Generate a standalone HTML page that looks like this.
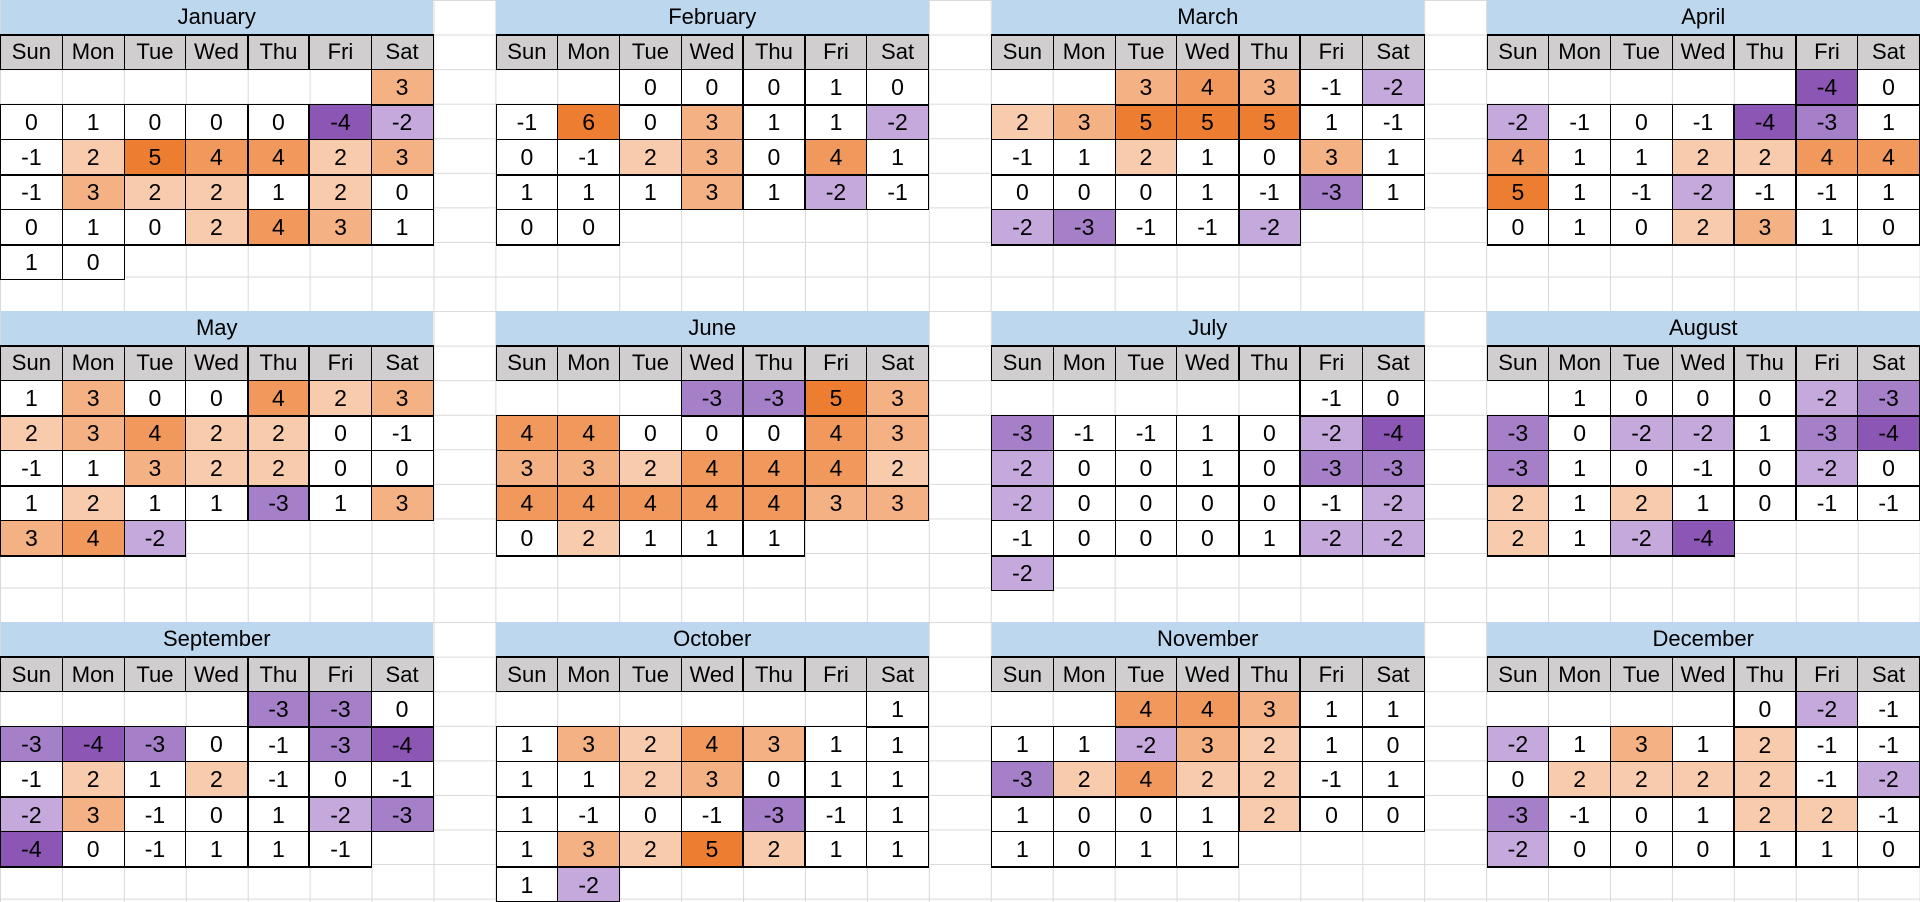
<!DOCTYPE html>
<html><head><meta charset="utf-8"><style>
html,body{margin:0;padding:0}
body{width:1920px;height:899px;overflow:hidden;position:relative;background:#fff;
background-image:linear-gradient(to right,#d9d9d9 1px,transparent 1px),linear-gradient(to bottom,#d9d9d9 1px,transparent 1px);
background-size:61.935px 34.577px;font-family:"Liberation Sans",Arial,sans-serif;}
table{position:absolute;border-collapse:collapse;table-layout:fixed;width:433.5px}
td{width:61.935px;height:33.5px;padding:0;text-align:center;font-size:23px;color:#000;border:1px solid #000;background:#fff;line-height:22px}
td.t{background:#bdd7ee;border:none;font-size:22px}
tr.h td{background:#d0cece;border-top:2px solid #000;font-size:22px}
td.e{border:none;background:transparent}
tr.w1 td:not(.e),tr.w3 td:not(.e),tr.w5 td:not(.e){border-bottom:2px solid #000}
tr td:nth-child(5):not(.e):not(.t),tr td:nth-child(6):not(.e):not(.t){border-left:2px solid #000}
.p2{background:#f8cbad}.p3{background:#f4b183}.p4{background:#f1995c}.p5{background:#ed7d31}
.n2{background:#c5a9dc}.n3{background:#a57fc8}.n4{background:#8c56b4}
</style></head><body>

<table style="left:0;top:0"><tr><td class="t" colspan="7">January</td></tr>
<tr class="h"><td>Sun</td><td>Mon</td><td>Tue</td><td>Wed</td><td>Thu</td><td>Fri</td><td>Sat</td></tr>
<tr class="w1"><td class="e"></td><td class="e"></td><td class="e"></td><td class="e"></td><td class="e"></td><td class="e"></td><td class="p3">3</td></tr>
<tr class="w2"><td>0</td><td>1</td><td>0</td><td>0</td><td>0</td><td class="n4">-4</td><td class="n2">-2</td></tr>
<tr class="w3"><td>-1</td><td class="p2">2</td><td class="p5">5</td><td class="p4">4</td><td class="p4">4</td><td class="p2">2</td><td class="p3">3</td></tr>
<tr class="w4"><td>-1</td><td class="p3">3</td><td class="p2">2</td><td class="p2">2</td><td>1</td><td class="p2">2</td><td>0</td></tr>
<tr class="w5"><td>0</td><td>1</td><td>0</td><td class="p2">2</td><td class="p4">4</td><td class="p3">3</td><td>1</td></tr>
<tr class="w6"><td>1</td><td>0</td><td class="e"></td><td class="e"></td><td class="e"></td><td class="e"></td><td class="e"></td></tr></table>

<table style="left:495.5px;top:0"><tr><td class="t" colspan="7">February</td></tr>
<tr class="h"><td>Sun</td><td>Mon</td><td>Tue</td><td>Wed</td><td>Thu</td><td>Fri</td><td>Sat</td></tr>
<tr class="w1"><td class="e"></td><td class="e"></td><td>0</td><td>0</td><td>0</td><td>1</td><td>0</td></tr>
<tr class="w2"><td>-1</td><td class="p5">6</td><td>0</td><td class="p3">3</td><td>1</td><td>1</td><td class="n2">-2</td></tr>
<tr class="w3"><td>0</td><td>-1</td><td class="p2">2</td><td class="p3">3</td><td>0</td><td class="p4">4</td><td>1</td></tr>
<tr class="w4"><td>1</td><td>1</td><td>1</td><td class="p3">3</td><td>1</td><td class="n2">-2</td><td>-1</td></tr>
<tr class="w5"><td>0</td><td>0</td><td class="e"></td><td class="e"></td><td class="e"></td><td class="e"></td><td class="e"></td></tr>
<tr class="w6"><td class="e"></td><td class="e"></td><td class="e"></td><td class="e"></td><td class="e"></td><td class="e"></td><td class="e"></td></tr></table>

<table style="left:991px;top:0"><tr><td class="t" colspan="7">March</td></tr>
<tr class="h"><td>Sun</td><td>Mon</td><td>Tue</td><td>Wed</td><td>Thu</td><td>Fri</td><td>Sat</td></tr>
<tr class="w1"><td class="e"></td><td class="e"></td><td class="p3">3</td><td class="p4">4</td><td class="p3">3</td><td>-1</td><td class="n2">-2</td></tr>
<tr class="w2"><td class="p2">2</td><td class="p3">3</td><td class="p5">5</td><td class="p5">5</td><td class="p5">5</td><td>1</td><td>-1</td></tr>
<tr class="w3"><td>-1</td><td>1</td><td class="p2">2</td><td>1</td><td>0</td><td class="p3">3</td><td>1</td></tr>
<tr class="w4"><td>0</td><td>0</td><td>0</td><td>1</td><td>-1</td><td class="n3">-3</td><td>1</td></tr>
<tr class="w5"><td class="n2">-2</td><td class="n3">-3</td><td>-1</td><td>-1</td><td class="n2">-2</td><td class="e"></td><td class="e"></td></tr>
<tr class="w6"><td class="e"></td><td class="e"></td><td class="e"></td><td class="e"></td><td class="e"></td><td class="e"></td><td class="e"></td></tr></table>

<table style="left:1486.5px;top:0"><tr><td class="t" colspan="7">April</td></tr>
<tr class="h"><td>Sun</td><td>Mon</td><td>Tue</td><td>Wed</td><td>Thu</td><td>Fri</td><td>Sat</td></tr>
<tr class="w1"><td class="e"></td><td class="e"></td><td class="e"></td><td class="e"></td><td class="e"></td><td class="n4">-4</td><td>0</td></tr>
<tr class="w2"><td class="n2">-2</td><td>-1</td><td>0</td><td>-1</td><td class="n4">-4</td><td class="n3">-3</td><td>1</td></tr>
<tr class="w3"><td class="p4">4</td><td>1</td><td>1</td><td class="p2">2</td><td class="p2">2</td><td class="p4">4</td><td class="p4">4</td></tr>
<tr class="w4"><td class="p5">5</td><td>1</td><td>-1</td><td class="n2">-2</td><td>-1</td><td>-1</td><td>1</td></tr>
<tr class="w5"><td>0</td><td>1</td><td>0</td><td class="p2">2</td><td class="p3">3</td><td>1</td><td>0</td></tr>
<tr class="w6"><td class="e"></td><td class="e"></td><td class="e"></td><td class="e"></td><td class="e"></td><td class="e"></td><td class="e"></td></tr></table>

<table style="left:0;top:311.2px"><tr><td class="t" colspan="7">May</td></tr>
<tr class="h"><td>Sun</td><td>Mon</td><td>Tue</td><td>Wed</td><td>Thu</td><td>Fri</td><td>Sat</td></tr>
<tr class="w1"><td>1</td><td class="p3">3</td><td>0</td><td>0</td><td class="p4">4</td><td class="p2">2</td><td class="p3">3</td></tr>
<tr class="w2"><td class="p2">2</td><td class="p3">3</td><td class="p4">4</td><td class="p2">2</td><td class="p2">2</td><td>0</td><td>-1</td></tr>
<tr class="w3"><td>-1</td><td>1</td><td class="p3">3</td><td class="p2">2</td><td class="p2">2</td><td>0</td><td>0</td></tr>
<tr class="w4"><td>1</td><td class="p2">2</td><td>1</td><td>1</td><td class="n3">-3</td><td>1</td><td class="p3">3</td></tr>
<tr class="w5"><td class="p3">3</td><td class="p4">4</td><td class="n2">-2</td><td class="e"></td><td class="e"></td><td class="e"></td><td class="e"></td></tr>
<tr class="w6"><td class="e"></td><td class="e"></td><td class="e"></td><td class="e"></td><td class="e"></td><td class="e"></td><td class="e"></td></tr></table>

<table style="left:495.5px;top:311.2px"><tr><td class="t" colspan="7">June</td></tr>
<tr class="h"><td>Sun</td><td>Mon</td><td>Tue</td><td>Wed</td><td>Thu</td><td>Fri</td><td>Sat</td></tr>
<tr class="w1"><td class="e"></td><td class="e"></td><td class="e"></td><td class="n3">-3</td><td class="n3">-3</td><td class="p5">5</td><td class="p3">3</td></tr>
<tr class="w2"><td class="p4">4</td><td class="p4">4</td><td>0</td><td>0</td><td>0</td><td class="p4">4</td><td class="p3">3</td></tr>
<tr class="w3"><td class="p3">3</td><td class="p3">3</td><td class="p2">2</td><td class="p4">4</td><td class="p4">4</td><td class="p4">4</td><td class="p2">2</td></tr>
<tr class="w4"><td class="p4">4</td><td class="p4">4</td><td class="p4">4</td><td class="p4">4</td><td class="p4">4</td><td class="p3">3</td><td class="p3">3</td></tr>
<tr class="w5"><td>0</td><td class="p2">2</td><td>1</td><td>1</td><td>1</td><td class="e"></td><td class="e"></td></tr>
<tr class="w6"><td class="e"></td><td class="e"></td><td class="e"></td><td class="e"></td><td class="e"></td><td class="e"></td><td class="e"></td></tr></table>

<table style="left:991px;top:311.2px"><tr><td class="t" colspan="7">July</td></tr>
<tr class="h"><td>Sun</td><td>Mon</td><td>Tue</td><td>Wed</td><td>Thu</td><td>Fri</td><td>Sat</td></tr>
<tr class="w1"><td class="e"></td><td class="e"></td><td class="e"></td><td class="e"></td><td class="e"></td><td>-1</td><td>0</td></tr>
<tr class="w2"><td class="n3">-3</td><td>-1</td><td>-1</td><td>1</td><td>0</td><td class="n2">-2</td><td class="n4">-4</td></tr>
<tr class="w3"><td class="n2">-2</td><td>0</td><td>0</td><td>1</td><td>0</td><td class="n3">-3</td><td class="n3">-3</td></tr>
<tr class="w4"><td class="n2">-2</td><td>0</td><td>0</td><td>0</td><td>0</td><td>-1</td><td class="n2">-2</td></tr>
<tr class="w5"><td>-1</td><td>0</td><td>0</td><td>0</td><td>1</td><td class="n2">-2</td><td class="n2">-2</td></tr>
<tr class="w6"><td class="n2">-2</td><td class="e"></td><td class="e"></td><td class="e"></td><td class="e"></td><td class="e"></td><td class="e"></td></tr></table>

<table style="left:1486.5px;top:311.2px"><tr><td class="t" colspan="7">August</td></tr>
<tr class="h"><td>Sun</td><td>Mon</td><td>Tue</td><td>Wed</td><td>Thu</td><td>Fri</td><td>Sat</td></tr>
<tr class="w1"><td class="e"></td><td>1</td><td>0</td><td>0</td><td>0</td><td class="n2">-2</td><td class="n3">-3</td></tr>
<tr class="w2"><td class="n3">-3</td><td>0</td><td class="n2">-2</td><td class="n2">-2</td><td>1</td><td class="n3">-3</td><td class="n4">-4</td></tr>
<tr class="w3"><td class="n3">-3</td><td>1</td><td>0</td><td>-1</td><td>0</td><td class="n2">-2</td><td>0</td></tr>
<tr class="w4"><td class="p2">2</td><td>1</td><td class="p2">2</td><td>1</td><td>0</td><td>-1</td><td>-1</td></tr>
<tr class="w5"><td class="p2">2</td><td>1</td><td class="n2">-2</td><td class="n4">-4</td><td class="e"></td><td class="e"></td><td class="e"></td></tr>
<tr class="w6"><td class="e"></td><td class="e"></td><td class="e"></td><td class="e"></td><td class="e"></td><td class="e"></td><td class="e"></td></tr></table>

<table style="left:0;top:622.4px"><tr><td class="t" colspan="7">September</td></tr>
<tr class="h"><td>Sun</td><td>Mon</td><td>Tue</td><td>Wed</td><td>Thu</td><td>Fri</td><td>Sat</td></tr>
<tr class="w1"><td class="e"></td><td class="e"></td><td class="e"></td><td class="e"></td><td class="n3">-3</td><td class="n3">-3</td><td>0</td></tr>
<tr class="w2"><td class="n3">-3</td><td class="n4">-4</td><td class="n3">-3</td><td>0</td><td>-1</td><td class="n3">-3</td><td class="n4">-4</td></tr>
<tr class="w3"><td>-1</td><td class="p2">2</td><td>1</td><td class="p2">2</td><td>-1</td><td>0</td><td>-1</td></tr>
<tr class="w4"><td class="n2">-2</td><td class="p3">3</td><td>-1</td><td>0</td><td>1</td><td class="n2">-2</td><td class="n3">-3</td></tr>
<tr class="w5"><td class="n4">-4</td><td>0</td><td>-1</td><td>1</td><td>1</td><td>-1</td><td class="e"></td></tr>
<tr class="w6"><td class="e"></td><td class="e"></td><td class="e"></td><td class="e"></td><td class="e"></td><td class="e"></td><td class="e"></td></tr></table>

<table style="left:495.5px;top:622.4px"><tr><td class="t" colspan="7">October</td></tr>
<tr class="h"><td>Sun</td><td>Mon</td><td>Tue</td><td>Wed</td><td>Thu</td><td>Fri</td><td>Sat</td></tr>
<tr class="w1"><td class="e"></td><td class="e"></td><td class="e"></td><td class="e"></td><td class="e"></td><td class="e"></td><td>1</td></tr>
<tr class="w2"><td>1</td><td class="p3">3</td><td class="p2">2</td><td class="p4">4</td><td class="p3">3</td><td>1</td><td>1</td></tr>
<tr class="w3"><td>1</td><td>1</td><td class="p2">2</td><td class="p3">3</td><td>0</td><td>1</td><td>1</td></tr>
<tr class="w4"><td>1</td><td>-1</td><td>0</td><td>-1</td><td class="n3">-3</td><td>-1</td><td>1</td></tr>
<tr class="w5"><td>1</td><td class="p3">3</td><td class="p2">2</td><td class="p5">5</td><td class="p2">2</td><td>1</td><td>1</td></tr>
<tr class="w6"><td>1</td><td class="n2">-2</td><td class="e"></td><td class="e"></td><td class="e"></td><td class="e"></td><td class="e"></td></tr></table>

<table style="left:991px;top:622.4px"><tr><td class="t" colspan="7">November</td></tr>
<tr class="h"><td>Sun</td><td>Mon</td><td>Tue</td><td>Wed</td><td>Thu</td><td>Fri</td><td>Sat</td></tr>
<tr class="w1"><td class="e"></td><td class="e"></td><td class="p4">4</td><td class="p4">4</td><td class="p3">3</td><td>1</td><td>1</td></tr>
<tr class="w2"><td>1</td><td>1</td><td class="n2">-2</td><td class="p3">3</td><td class="p2">2</td><td>1</td><td>0</td></tr>
<tr class="w3"><td class="n3">-3</td><td class="p2">2</td><td class="p4">4</td><td class="p2">2</td><td class="p2">2</td><td>-1</td><td>1</td></tr>
<tr class="w4"><td>1</td><td>0</td><td>0</td><td>1</td><td class="p2">2</td><td>0</td><td>0</td></tr>
<tr class="w5"><td>1</td><td>0</td><td>1</td><td>1</td><td class="e"></td><td class="e"></td><td class="e"></td></tr>
<tr class="w6"><td class="e"></td><td class="e"></td><td class="e"></td><td class="e"></td><td class="e"></td><td class="e"></td><td class="e"></td></tr></table>

<table style="left:1486.5px;top:622.4px"><tr><td class="t" colspan="7">December</td></tr>
<tr class="h"><td>Sun</td><td>Mon</td><td>Tue</td><td>Wed</td><td>Thu</td><td>Fri</td><td>Sat</td></tr>
<tr class="w1"><td class="e"></td><td class="e"></td><td class="e"></td><td class="e"></td><td>0</td><td class="n2">-2</td><td>-1</td></tr>
<tr class="w2"><td class="n2">-2</td><td>1</td><td class="p3">3</td><td>1</td><td class="p2">2</td><td>-1</td><td>-1</td></tr>
<tr class="w3"><td>0</td><td class="p2">2</td><td class="p2">2</td><td class="p2">2</td><td class="p2">2</td><td>-1</td><td class="n2">-2</td></tr>
<tr class="w4"><td class="n3">-3</td><td>-1</td><td>0</td><td>1</td><td class="p2">2</td><td class="p2">2</td><td>-1</td></tr>
<tr class="w5"><td class="n2">-2</td><td>0</td><td>0</td><td>0</td><td>1</td><td>1</td><td>0</td></tr>
<tr class="w6"><td class="e"></td><td class="e"></td><td class="e"></td><td class="e"></td><td class="e"></td><td class="e"></td><td class="e"></td></tr></table>

</body></html>
